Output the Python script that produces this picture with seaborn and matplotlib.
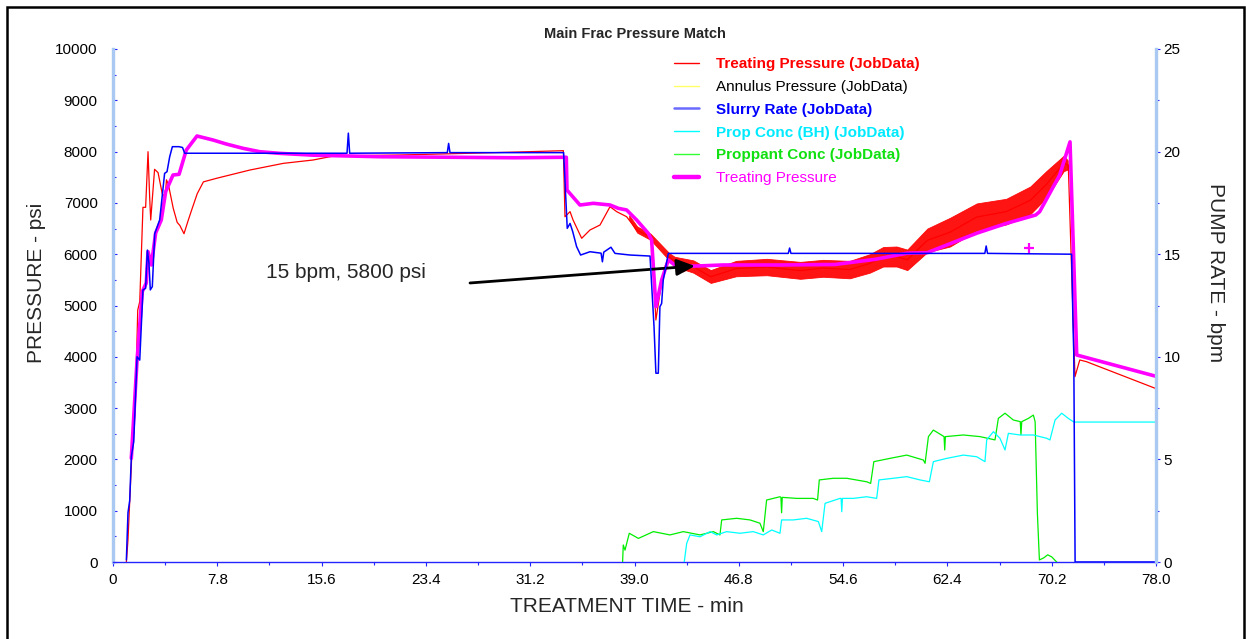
import matplotlib
matplotlib.use("Agg")
import matplotlib.pyplot as plt
import pandas as pd
import seaborn as sns
from matplotlib.lines import Line2D
from matplotlib.patches import Rectangle
from matplotlib.ticker import MultipleLocator

# ---------------- data ----------------
# Measured treating pressure (psi) vs. treatment time (min)
tp_time = [1.0, 1.12, 1.39, 1.65, 1.77, 1.85, 2.0, 2.24, 2.44, 2.62, 2.74, 2.82, 3.11, 3.37,
           3.69, 3.9, 4.0, 4.15, 4.5, 4.8, 5.0, 5.31, 5.6, 5.88, 6.3, 6.76, 7.75, 10.24, 12.74,
           14.96, 16.48, 21.46, 26.45, 30.0, 33.68, 33.8, 34.18, 34.4, 35.05, 35.67, 36.42,
           37.17, 37.67, 38.41, 39.16, 40.16, 40.3, 40.6, 40.9, 41.28, 41.6, 42.03, 42.65,
           43.4, 44.7, 46.6, 48.9, 51.4, 53.1, 55.1, 56.6, 57.6, 58.6, 59.4, 60.9, 62.6, 64.6,
           66.8, 68.6, 69.8, 71.1, 71.44, 71.94, 72.3, 72.8, 78.0]
tp_psi = [0, 430, 1990, 2960, 4070, 4910, 5075, 6914, 6914, 7998, 7121, 6667, 7655, 7590,
          7170, 7120, 7450, 7350, 6900, 6620, 6560, 6400, 6640, 6860, 7180, 7410, 7480, 7641,
          7771, 7836, 7914, 7934, 7966, 7990, 8018, 6730, 6830, 6670, 6310, 6472, 6569, 6926,
          6829, 6731, 6472, 6341, 6200, 4717, 5237, 5757, 5952, 5854, 5659, 5757, 5560, 5720,
          5750, 5680, 5730, 5700, 5820, 5950, 5955, 5890, 6270, 6430, 6725, 6830, 7050, 7360,
          7770, 7740, 3613, 3938, 3905, 3380]

# Fluctuation envelope of the measured pressure during the slurry stages
band_time = [38.6, 39.2, 40.2, 41.6, 42.0, 43.4, 44.7, 46.6, 48.9, 51.4, 53.1, 55.1, 56.6,
             57.6, 58.6, 59.4, 60.9, 62.6, 64.6, 66.8, 68.6, 69.8, 71.1, 71.4]
band_low = [6680, 6420, 6280, 5880, 5760, 5640, 5440, 5570, 5590, 5520, 5560, 5530, 5640,
            5760, 5760, 5690, 6040, 6150, 6460, 6580, 6780, 7100, 7620, 7650]
band_high = [6760, 6540, 6400, 6020, 5950, 5880, 5690, 5870, 5910, 5850, 5890, 5870, 6000,
             6140, 6150, 6090, 6500, 6710, 6990, 7080, 7320, 7620, 7920, 7830]

# Model (matched) treating pressure, psi
model_time = [1.37, 1.8, 2.19, 2.49, 2.62, 2.87, 3.19, 3.61, 3.94, 4.49, 4.94, 5.48, 6.28,
              7.48, 8.47, 9.72, 10.97, 12.46, 15.0, 20.0, 25.0, 30.0, 33.65, 33.9, 33.95,
              34.92, 35.92, 37.17, 37.79, 38.41, 39.16, 40.03, 40.28, 40.6, 41.03, 41.53,
              42.16, 43.65, 45.64, 50.0, 54.0, 57.0, 59.4, 60.9, 64.6, 66.8, 69.0, 69.3, 70.8,
              71.57, 72.07, 78.0]
model_psi = [2021, 3938, 5270, 5440, 6050, 5790, 6413, 6667, 7220, 7544, 7557, 8030, 8304,
             8226, 8148, 8064, 7998, 7966, 7930, 7900, 7890, 7880, 7889, 7889, 7250, 6959,
             6992, 6959, 6894, 6862, 6667, 6407, 6277, 4977, 5497, 5887, 5757, 5770, 5790,
             5790, 5800, 5900, 6020, 6030, 6410, 6600, 6764, 6829, 7544, 8190, 4035, 3620]
model_mark_time = [68.5]
model_mark_psi = [6115]

# Slurry rate, bpm
rate_time = [1.0, 1.12, 1.25, 1.37, 1.55, 1.8, 2.0, 2.24, 2.44, 2.57, 2.69, 2.79, 2.94, 3.12,
             3.49, 3.86, 4.04, 4.24, 4.44, 4.94, 5.2, 5.36, 17.5, 17.6, 17.7, 25.0, 25.1,
             25.2, 33.7, 33.97, 34.18, 34.38, 34.67, 34.97, 35.67, 36.5, 36.6, 36.7, 37.24,
             37.54, 38.66, 40.16, 40.46, 40.6, 40.78, 40.9, 41.03, 41.15, 41.53, 50.5, 50.6,
             50.7, 65.2, 65.3, 65.4, 71.69, 71.8, 71.85, 71.95, 78.0]
rate_bpm = [0.1, 2.4, 3.0, 5.13, 5.86, 10.0, 9.84, 13.26, 13.34, 15.2, 14.56, 13.26, 13.42,
            16.0, 16.67, 18.94, 19.02, 19.75, 20.24, 20.24, 20.2, 19.92, 19.92, 20.9, 19.92,
            19.95, 20.4, 19.95, 19.95, 16.26, 16.5, 16.1, 15.37, 14.96, 15.12, 15.05, 14.63,
            15.1, 15.34, 15.04, 14.96, 14.91, 11.47, 9.2, 9.2, 12.44, 12.6, 13.74, 15.04,
            15.04, 15.3, 15.04, 15.04, 15.4, 15.04, 15.0, 11.4, 10.2, 0.0, 0.0]

# Bottom-hole proppant concentration
bh_time = [42.72, 42.9, 43.15, 43.9, 44.65, 45.15, 45.89, 46.89, 47.88, 48.63, 49.26, 49.88,
           50.0, 50.88, 51.87, 52.75, 53.0, 53.25, 54.37, 54.45, 54.5, 54.55, 55.36, 56.36,
           57.11, 57.28, 58.35, 59.36, 60.35, 61.05, 61.35, 62.35, 63.59, 64.59, 65.21, 65.34,
           65.84, 66.33, 66.71, 66.96, 67.83, 68.83, 69.82, 70.07, 70.45, 70.95, 71.44,
           71.81, 71.9, 78.0]
bh_conc = [0.0, 0.9, 1.32, 1.23, 1.48, 1.32, 1.48, 1.4, 1.48, 1.32, 1.56, 1.4, 2.05, 2.05,
           2.13, 1.97, 1.48, 2.86, 3.1, 3.1, 2.45, 3.1, 3.1, 3.18, 3.1, 4.0, 4.08, 4.16, 4.0,
           3.91, 4.89, 5.05, 5.21, 5.13, 4.89, 5.95, 6.35, 6.03, 5.46, 6.27, 6.19, 6.19, 6.03,
           5.95, 6.92, 7.25, 7.0, 6.84, 6.82, 6.82]

# Surface proppant concentration
prop_time = [38.11, 38.16, 38.29, 38.61, 39.29, 40.41, 41.65, 42.65, 43.9, 44.9, 45.39,
             45.52, 46.64, 47.64, 48.38, 48.63, 48.88, 49.88, 49.95, 50.0, 50.05, 51.13,
             52.37, 52.69, 52.82, 53.87, 54.87, 56.36, 56.66, 56.9, 58.1, 59.36, 60.6, 60.73,
             60.98, 61.35, 62.15, 62.2, 62.25, 63.59, 64.84, 65.96, 66.21, 66.71, 67.33,
             67.85, 67.9, 67.96, 68.46, 68.83, 68.96, 69.13, 69.28, 69.6, 69.9, 70.2, 70.57]
prop_conc = [0.0, 0.83, 0.58, 1.4, 1.15, 1.48, 1.32, 1.48, 1.32, 1.48, 1.32, 2.05, 2.13,
             2.05, 1.89, 1.48, 3.02, 3.18, 3.15, 2.4, 3.15, 3.1, 3.1, 3.02, 4.0, 4.08, 4.08,
             3.91, 3.83, 4.89, 5.05, 5.21, 4.97, 4.81, 6.11, 6.43, 6.11, 5.46, 6.11, 6.19,
             6.11, 5.95, 7.0, 7.25, 6.92, 6.84, 6.2, 6.84, 7.0, 7.16, 6.84, 2.37, 0.1, 0.2,
             0.35, 0.25, 0.0]

x_ticks = [0, 7.8, 15.6, 23.4, 31.2, 39.0, 46.8, 54.6, 62.4, 70.2, 78.0]
x_tick_labels = ["0", "7.8", "15.6", "23.4", "31.2", "39.0", "46.8", "54.6", "62.4", "70.2", "78.0"]
psi_ticks = [0, 1000, 2000, 3000, 4000, 5000, 6000, 7000, 8000, 9000, 10000]
bpm_ticks = [0, 5, 10, 15, 20, 25]

legend_labels = ["Treating Pressure (JobData)", "Annulus Pressure (JobData)",
                 "Slurry Rate (JobData)", "Prop Conc (BH) (JobData)",
                 "Proppant Conc (JobData)", "Treating Pressure"]

# ---------------- style ----------------
sns.set_style("white")
plt.rcParams["font.family"] = ["Liberation Sans", "DejaVu Sans"]

RED = "#ff0000"
MAG = "#ff00ff"
BLUE = "#0000ff"
CYAN = "#00ffff"
GREEN = "#00ee00"
SPINE = "#a9c9f2"
TICK = "#2424ff"

W, H = 1246, 639
fig = plt.figure(figsize=(W / 100, H / 100), dpi=100)
ax = fig.add_axes([113 / W, 1 - 562 / H, 1043 / W, 513 / H])
ax2 = ax.twinx()

# ---------------- pressures (left axis) ----------------
ax.fill_between(band_time, band_low, band_high, color=RED, lw=0.6, alpha=0.92, zorder=2)
sns.lineplot(data=pd.DataFrame({"t": tp_time, "p": tp_psi}), x="t", y="p", ax=ax,
             color=RED, lw=0.9, sort=False, estimator=None, zorder=2)
sns.lineplot(data=pd.DataFrame({"t": model_time, "p": model_psi}), x="t", y="p", ax=ax,
             color=MAG, lw=2.6, sort=False, estimator=None, zorder=3)
ax.scatter(model_mark_time, model_mark_psi, marker="+", s=45, color=MAG, lw=1.6, zorder=4)

# ---------------- rates / concentrations (right axis) ----------------
sns.lineplot(data=pd.DataFrame({"t": prop_time, "v": prop_conc}), x="t", y="v", ax=ax2,
             color=GREEN, lw=0.9, sort=False, estimator=None)
sns.lineplot(data=pd.DataFrame({"t": bh_time, "v": bh_conc}), x="t", y="v", ax=ax2,
             color=CYAN, lw=0.9, sort=False, estimator=None)
sns.lineplot(data=pd.DataFrame({"t": rate_time, "v": rate_bpm}), x="t", y="v", ax=ax2,
             color=BLUE, lw=1.1, sort=False, estimator=None)

# ---------------- axes ----------------
ax.set_xlim(0, 78)
ax.set_ylim(0, 10000)
ax2.set_ylim(0, 25)
ax.set_xticks(x_ticks)
ax.set_xticklabels(x_tick_labels)
ax.set_yticks(psi_ticks)
ax2.set_yticks(bpm_ticks)
ax.xaxis.set_minor_locator(MultipleLocator(3.9))
ax.yaxis.set_minor_locator(MultipleLocator(500))
ax2.yaxis.set_minor_locator(MultipleLocator(2.5))

for a in (ax, ax2):
    for s in a.spines.values():
        s.set_visible(False)
ax.spines["left"].set_visible(True)
ax.spines["left"].set_color(SPINE)
ax.spines["left"].set_linewidth(2.4)
ax.spines["bottom"].set_visible(True)
ax.spines["bottom"].set_color(TICK)
ax.spines["bottom"].set_linewidth(1.0)
ax2.spines["right"].set_visible(True)
ax2.spines["right"].set_color(SPINE)
ax2.spines["right"].set_linewidth(2.4)

ax.tick_params(axis="y", which="both", left=True, direction="in", color=TICK, width=0.8,
               labelsize=11, pad=11, labelcolor="black")
ax.tick_params(axis="y", which="major", length=3)
ax.tick_params(axis="y", which="minor", length=2)
ax.tick_params(axis="x", which="both", bottom=True, direction="out", color=TICK, width=0.8,
               labelsize=11, pad=5, labelcolor="black")
ax.tick_params(axis="x", which="major", length=3)
ax.tick_params(axis="x", which="minor", length=2)
ax2.tick_params(axis="y", which="both", right=True, direction="out", color=TICK, width=0.8,
                labelsize=11, pad=2.5, labelcolor="black")
ax2.tick_params(axis="y", which="major", length=3)
ax2.tick_params(axis="y", which="minor", length=2)
ax.grid(False)
ax2.grid(False)

ax.set_xlabel("TREATMENT TIME - min", fontsize=15)
ax.set_ylabel("PRESSURE - psi", fontsize=15)
ax2.set_ylabel("PUMP RATE - bpm", fontsize=15, rotation=270, va="center", ha="center")
ax.xaxis.set_label_coords(0.493, -0.068)
ax.yaxis.set_label_coords(-0.064, 0.544)
ax2.yaxis.set_label_coords(1.0566, 0.565)

ax.set_title("Main Frac Pressure Match", fontsize=10.5, fontweight="bold", pad=8)

# ---------------- annotation ----------------
ax.annotate("", xy=(43.52, 5770), xytext=(26.7, 5439),
            arrowprops=dict(arrowstyle="-|>,head_length=0.55,head_width=0.25",
                            mutation_scale=20, lw=2.0, color="black", shrinkA=0, shrinkB=0),
            zorder=6)
ax.text(11.44, 5653, "15 bpm, 5800 psi", fontsize=15, va="center", ha="left", zorder=6)

# ---------------- legend ----------------
handles = [
    Line2D([], [], color=RED, lw=1.0),
    Line2D([], [], color="#ffff66", lw=1.0),
    Line2D([], [], color="#6a6aff", lw=1.8),
    Line2D([], [], color=CYAN, lw=1.0),
    Line2D([], [], color="#33ff33", lw=1.0),
    Line2D([], [], color=MAG, lw=3.2),
]
leg = ax2.legend(handles, legend_labels, loc="upper left",
                 bbox_to_anchor=(674 / W, 1 - 57 / H), bbox_transform=fig.transFigure,
                 frameon=False, fontsize=11, handlelength=1.65, handletextpad=1.1,
                 labelspacing=0.58, borderpad=0, borderaxespad=0)
text_colors = [RED, "black", BLUE, "#00eaff", "#11e011", MAG]
text_weights = ["bold", "normal", "bold", "bold", "bold", "normal"]
for txt, c, wgt in zip(leg.get_texts(), text_colors, text_weights):
    txt.set_color(c)
    txt.set_fontweight(wgt)

# ---------------- page frame ----------------
fig.add_artist(Rectangle((7 / W, -0.05), (1244 - 7) / W, 1.05 - 7 / H,
                         transform=fig.transFigure, fill=False, ec="black", lw=1.8))

fig.savefig("out.png", dpi=100)
